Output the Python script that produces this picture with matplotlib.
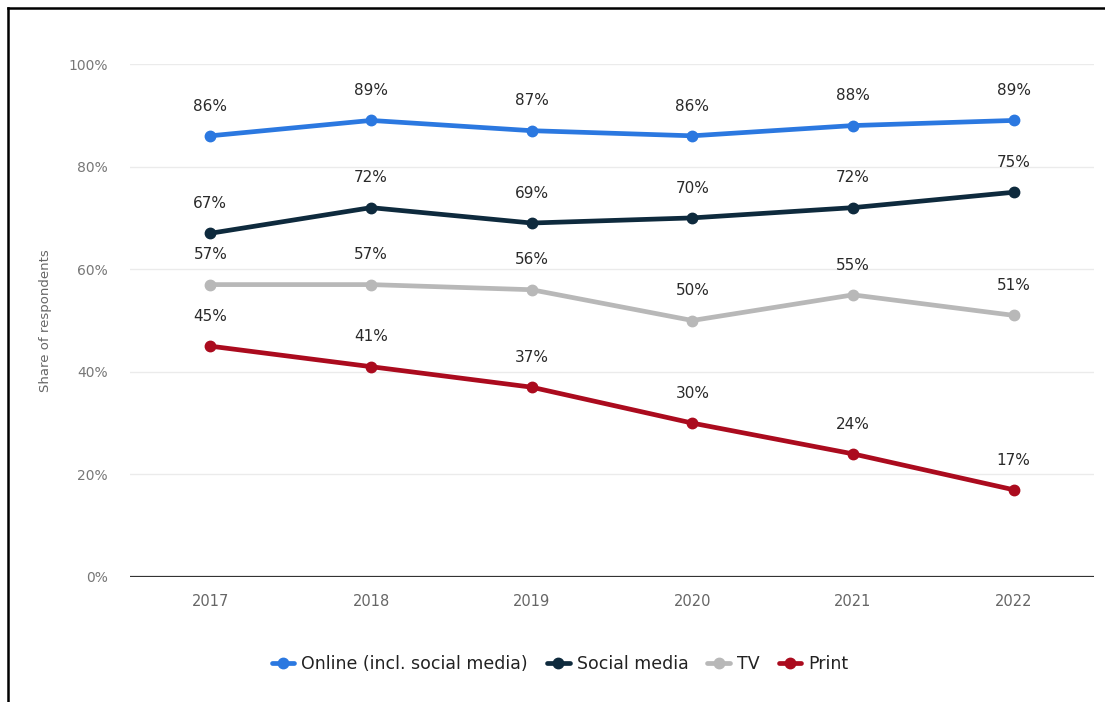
import matplotlib
matplotlib.use("Agg")
import matplotlib.pyplot as plt
from matplotlib.lines import Line2D

years = [2017, 2018, 2019, 2020, 2021, 2022]
online = [86, 89, 87, 86, 88, 89]
social = [67, 72, 69, 70, 72, 75]
tv = [57, 57, 56, 50, 55, 51]
print_ = [45, 41, 37, 30, 24, 17]
series_names = ["Online (incl. social media)", "Social media", "TV", "Print"]
series_values = [online, social, tv, print_]
colors = ["#2b78e0", "#0e2a3d", "#b8b8b8", "#ab0b1e"]
yticks = [0, 20, 40, 60, 80, 100]

plt.rcParams['font.family'] = ['DejaVu Sans']

fig = plt.figure(figsize=(11.05, 7.02), dpi=100)
ax = fig.add_axes([130/1105, 1-577/702, (1094-130)/1105, (577-64)/702])

for yv in yticks[1:]:
    ax.axhline(yv, color="#ebebeb", lw=1, zorder=0)
ax.axhline(0, color="#333333", lw=1.6, zorder=1)

for name, vals, c in zip(series_names, series_values, colors):
    ax.plot(years, vals, color=c, lw=3.4, marker="o", markersize=7.5,
            label=name, zorder=3, solid_capstyle="round")
    for x, v in zip(years, vals):
        ax.annotate(f"{v}%", (x, v), xytext=(0, 16), textcoords="offset points",
                    ha="center", va="bottom", fontsize=11, color="#2a2a2a", zorder=4)

ax.set_xlim(2016.5, 2022.5)
ax.set_ylim(0, 100)
ax.set_xticks(years)
ax.set_xticklabels([str(y) for y in years])
ax.set_yticks(yticks)
ax.set_yticklabels([f"{t}%" for t in yticks])
ax.tick_params(axis="x", length=0, colors="#666666", labelsize=10.5, pad=12)
ax.tick_params(axis="y", length=0, colors="#777777", labelsize=10, pad=16)
for s in ax.spines.values():
    s.set_visible(False)
ax.set_ylabel("Share of respondents", color="#666666", fontsize=9.5, labelpad=12)

leg = fig.legend(loc="center", bbox_to_anchor=(560/1105, 1-664/702), ncol=4,
                 frameon=False, fontsize=12.5, handlelength=1.3, columnspacing=1.1,
                 handletextpad=0.4)
for t in leg.get_texts():
    t.set_color("#222222")

fig.add_artist(Line2D([8/1105, 8/1105], [0, 1-8/702], color="black", lw=1.8, transform=fig.transFigure))
fig.add_artist(Line2D([8/1105, 1], [1-8/702, 1-8/702], color="black", lw=1.8, transform=fig.transFigure))

fig.savefig("out.png", dpi=100)
